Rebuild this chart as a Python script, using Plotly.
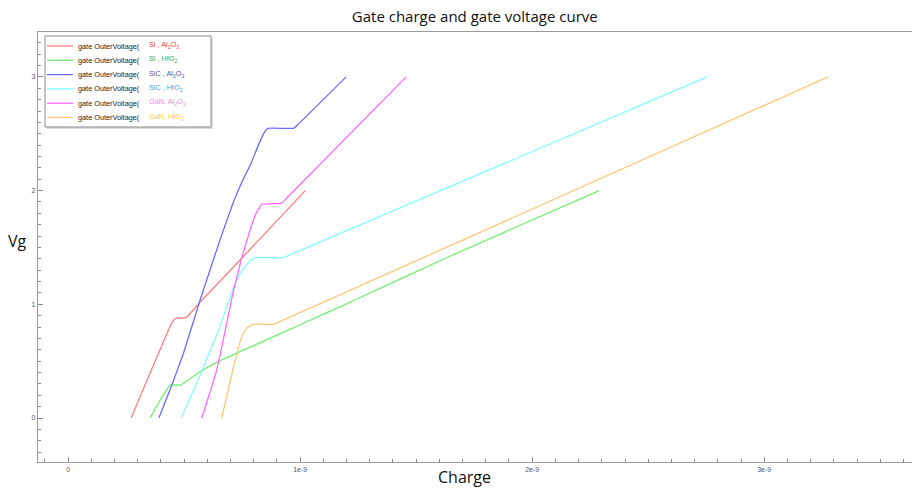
import plotly.graph_objects as go

# ---------------- data (charge in coulomb, Vg in volt) ----------------
series_names = ["Si , Al2O3", "Si , HfO2", "SiC , Al2O3", "SiC , HfO2", "GaN, Al2O3", "GaN, HfO2"]
legend_labels = [
    "Si , Al<sub>2</sub>O<sub>3</sub>",
    "Si , HfO<sub>2</sub>",
    "SiC , Al<sub>2</sub>O<sub>3</sub>",
    "SiC , HfO<sub>2</sub>",
    "GaN, Al<sub>2</sub>O<sub>3</sub>",
    "GaN, HfO<sub>2</sub>",
]

si_al_q = [0.272, 0.31, 0.40, 0.445, 0.462, 0.47, 0.505, 0.515, 0.569, 0.75, 1.022]
si_al_v = [0.0, 0.19, 0.62, 0.83, 0.875, 0.88, 0.88, 0.895, 1.02, 1.41, 2.0]

si_hf_q = [0.353, 0.40, 0.425, 0.44, 0.487, 0.50, 0.576, 0.655, 0.741, 1.0, 1.259, 1.647, 2.289]
si_hf_v = [0.0, 0.17, 0.25, 0.29, 0.29, 0.31, 0.416, 0.504, 0.583, 0.82, 1.06, 1.425, 2.0]

sic_al_q = [0.391, 0.447, 0.497, 0.569, 0.66, 0.7125, 0.75, 0.784, 0.82, 0.845, 0.861, 0.971, 0.99, 1.198]
sic_al_v = [0.0, 0.29, 0.569, 1.04, 1.60, 1.90, 2.08, 2.22, 2.40, 2.51, 2.548, 2.548, 2.58, 3.0]

sic_hf_q = [0.487, 0.569, 0.648, 0.72, 0.745, 0.77, 0.79, 0.81, 0.925, 0.95, 2.754]
sic_hf_v = [0.0, 0.378, 0.774, 1.185, 1.28, 1.35, 1.395, 1.41, 1.41, 1.43, 3.0]

gan_al_q = [0.576, 0.61, 0.64, 0.68, 0.7125, 0.75, 0.785, 0.81, 0.835, 0.921, 0.94, 1.457]
gan_al_v = [0.0, 0.22, 0.42, 0.80, 1.12, 1.42, 1.66, 1.80, 1.88, 1.89, 1.93, 3.0]

gan_hf_q = [0.662, 0.7125, 0.748, 0.77, 0.794, 0.888, 0.91, 3.276]
gan_hf_v = [0.0, 0.45, 0.715, 0.79, 0.824, 0.824, 0.845, 3.0]

charges = [si_al_q, si_hf_q, sic_al_q, sic_hf_q, gan_al_q, gan_hf_q]
voltages = [si_al_v, si_hf_v, sic_al_v, sic_hf_v, gan_al_v, gan_hf_v]
scale = 1e-9

x_tickvals = [0, 1e-9, 2e-9, 3e-9]
x_ticktext = ["0", "1e-9", "2e-9", "3e-9"]
y_tickvals = [0, 1, 2, 3]
y_ticktext = ["0", "1", "2", "3"]

# ---------------- styles ----------------
line_colors = ["#ff8080", "#70ee70", "#6a6aff", "#80ffff", "#ff6aff", "#ffc878"]
label_colors = ["#ff3b3b", "#33b35a", "#4a5aa0", "#33aadd", "#ee88dd", "#ffcc33"]

fig = go.Figure()
for name, q, v, c in zip(series_names, charges, voltages, line_colors):
    fig.add_trace(go.Scatter(
        x=[qq * scale for qq in q], y=v, mode="lines", name=name,
        line=dict(color=c, width=1.3, shape="spline", smoothing=0.3),
        showlegend=False, hoverinfo="skip"))

# pixel -> paper helpers (plot area 38..912 x 32..462)
L, R, T, B = 38, 912, 32, 462
def px(xpix):
    return (xpix - L) / (R - L)
def py(ypix):
    return (B - ypix) / (B - T)

shapes = []
annotations = []
# legend box with slight shadow
shapes.append(dict(type="rect", xref="paper", yref="paper",
                   x0=px(47), x1=px(213), y0=py(129), y1=py(38),
                   line=dict(width=0), fillcolor="#dcdcdc", layer="above"))
shapes.append(dict(type="rect", xref="paper", yref="paper",
                   x0=px(45), x1=px(211), y0=py(127), y1=py(36),
                   line=dict(color="#8a8a8a", width=1), fillcolor="white", layer="above"))
row_y = [46, 60.3, 74.6, 88.9, 103.2, 117.5]
for ry, lc, tc, lab in zip(row_y, line_colors, label_colors, legend_labels):
    shapes.append(dict(type="line", xref="paper", yref="paper",
                       x0=px(47), x1=px(73), y0=py(ry), y1=py(ry),
                       line=dict(color=lc, width=1.3), layer="above"))
    annotations.append(dict(xref="paper", yref="paper", x=px(76), y=py(ry),
                            xanchor="left", yanchor="middle", showarrow=False,
                            text="gate OuterVoltage(",
                            font=dict(family="Liberation Sans", size=7.3, color="#222")))
    annotations.append(dict(xref="paper", yref="paper", x=px(147), y=py(ry - 1),
                            xanchor="left", yanchor="middle", showarrow=False,
                            text=lab,
                            font=dict(family="Liberation Sans", size=7.3, color=tc)))

# axis titles
annotations.append(dict(xref="paper", yref="paper", x=px(464), y=py(490),
                        xanchor="center", yanchor="bottom", showarrow=False,
                        text="Charge", font=dict(family="Open Sans", size=16, color="#111")))
annotations.append(dict(xref="paper", yref="paper", x=px(17), y=py(241),
                        xanchor="center", yanchor="middle", showarrow=False,
                        text="Vg", font=dict(family="Open Sans", size=16, color="#111")))

fig.update_layout(
    width=913, height=491,
    margin=dict(l=L, r=913 - R, t=T, b=491 - B),
    paper_bgcolor="white", plot_bgcolor="white",
    title=dict(text="Gate charge and gate voltage curve", x=0.52, xanchor="center",
               y=1 - 17 / 491, yanchor="middle",
               font=dict(family="Open Sans", size=15, color="#111")),
    xaxis=dict(range=[-0.13e-9, 3.637e-9], showgrid=False, zeroline=False,
               showline=True, linecolor="#9a9a9a", linewidth=1.2, mirror=True,
               ticks="inside", ticklen=5, tickcolor="#8a8a8a", tickwidth=1,
               tickvals=x_tickvals, ticktext=x_ticktext,
               tickfont=dict(family="Liberation Sans", size=7, color="#555"),
               minor=dict(ticks="inside", ticklen=3, tickcolor="#8a8a8a",
                          tick0=0, dtick=0.1e-9, showgrid=False)),
    yaxis=dict(range=[-0.387, 3.395], showgrid=False, zeroline=False,
               showline=True, linecolor="#9a9a9a", linewidth=1.2,
               ticks="inside", ticklen=5, tickcolor="#8a8a8a", tickwidth=1,
               tickvals=y_tickvals, ticktext=y_ticktext,
               tickfont=dict(family="Liberation Sans", size=7, color="#555"),
               minor=dict(ticks="inside", ticklen=3, tickcolor="#8a8a8a",
                          tick0=0, dtick=0.1, showgrid=False)),
    shapes=shapes, annotations=annotations,
)

fig.write_html("out.html")
